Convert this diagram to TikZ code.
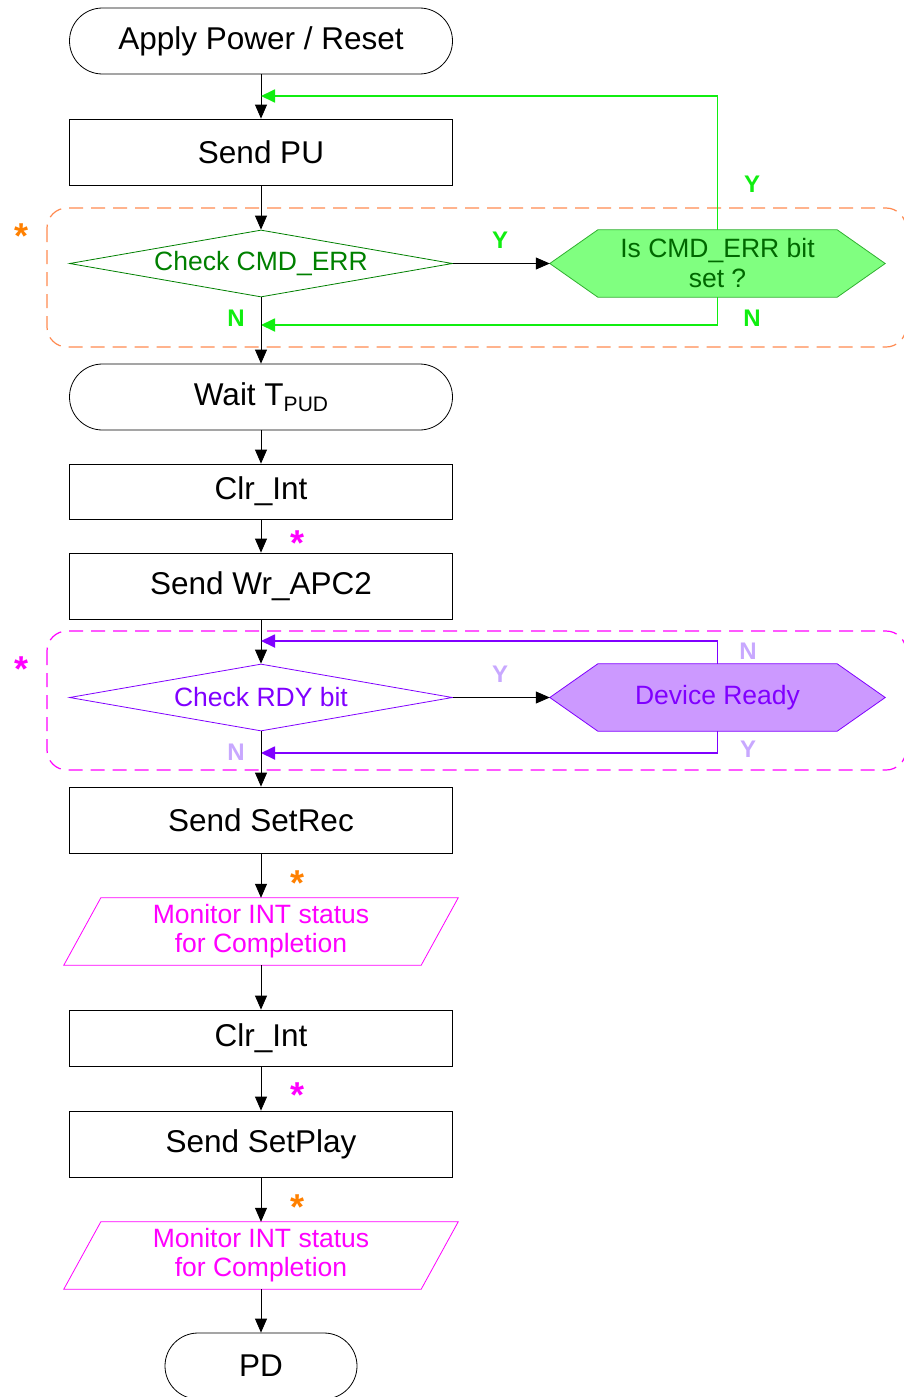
\documentclass[tikz,border=0pt]{standalone}
\usepackage{fontspec}
\setmainfont{Liberation Sans}
\usetikzlibrary{arrows.meta,shapes.geometric,backgrounds,calc}
\definecolor{lgreen}{HTML}{10EE10}
\definecolor{dgreen}{HTML}{008000}
\definecolor{hexgfill}{HTML}{80FF80}
\definecolor{hexgdraw}{HTML}{30B030}
\definecolor{hexgtext}{HTML}{006800}
\definecolor{dorange}{HTML}{FF8A50}
\definecolor{sorange}{HTML}{FF8000}
\definecolor{mag}{HTML}{FF00FF}
\definecolor{purp}{HTML}{8000FF}
\definecolor{hexpfill}{HTML}{CC99FF}
\definecolor{lpurp}{HTML}{C8A8FF}
\begin{document}
\begin{tikzpicture}[x=1pt,y=-1pt,
  box/.style={draw=black, line width=0.8pt, minimum width=383pt, minimum height=66pt, inner sep=0pt, font=\fontsize{31.5}{34}\selectfont},
  term/.style={box, rounded corners=33pt},
  dec/.style={diamond, aspect=5.7, line width=0.8pt, minimum width=383pt, minimum height=67pt, inner sep=0pt, font=\fontsize{26.5}{30}\selectfont},
  hexnode/.style={rectangle, minimum width=335pt, minimum height=67pt, inner sep=0pt, align=center, font=\fontsize{26.5}{30}\selectfont},
  paranode/.style={rectangle, minimum width=394pt, minimum height=67pt, inner sep=0pt, align=center, text=mag, font=\fontsize{26.5}{29}\selectfont},
  arr/.style={draw=black, line width=0.8pt, -{Triangle[length=14pt,width=12pt]}},
  garr/.style={draw=lgreen, line width=1.8pt, -{Triangle[length=14pt,width=13pt]}},
  parr/.style={draw=purp, line width=1.8pt, -{Triangle[length=14pt,width=13pt]}},
  yn/.style={font=\fontsize{24}{24}\selectfont\bfseries, inner sep=0pt},
  star/.style={font=\fontsize{36}{36}\selectfont\bfseries, inner sep=0pt, anchor=base},
  grp/.style={line width=1.2pt, dash pattern=on 14pt off 8pt, rounded corners=20pt}
]
\clip (0,0) rectangle (904,1397);

% group frames
\draw[grp, draw=dorange] (47,208) rectangle (906,347);
\draw[grp, draw=mag] (47,631) rectangle (906,770);
\node[star, text=sorange] (s1) at (22,248) {*};
\node[star, text=mag] (s2) at (22,681) {*};

% main column
\node[term] (start) at (261,41) {Apply Power / Reset};
\node[box] (pu) at (261,152) {Send PU};
\node[dec, draw=dgreen, text=dgreen] (cmd) at (261,263.5) {Check CMD\_ERR};
\node[hexnode, text=hexgtext] (h1) at (717.5,263.5) {Is CMD\_ERR bit\\set ?};
\node[term] (wait) at (261,397) {Wait T\raisebox{-0.35ex}{\fontsize{21}{21}\selectfont PUD}};
\node[box, minimum height=55pt] (clr1) at (261,491.5) {Clr\_Int};
\node[box] (apc) at (261,586) {Send Wr\_APC2};
\node[dec, draw=purp, text=purp] (rdy) at (261,697.5) {Check RDY bit};
\node[hexnode, text=purp] (h2) at (717.5,697.5) {Device Ready};
\node[box] (setrec) at (261,820) {Send SetRec};
\node[paranode] (mon1) at (261,931.5) {Monitor INT status\\for Completion};
\node[box, minimum height=56pt] (clr2) at (261,1038) {Clr\_Int};
\node[box] (setplay) at (261,1144) {Send SetPlay};
\node[paranode] (mon2) at (261,1255.5) {Monitor INT status\\for Completion};
\node[term, minimum width=192pt] (pd) at (261,1366) {PD};

% drawn outlines
\begin{scope}[on background layer]
  \filldraw[fill=hexgfill, draw=hexgdraw, line width=0.8pt] (h1.west) -- ($(h1.north west)+(48,0)$) -- ($(h1.north east)+(-48,0)$) -- (h1.east) -- ($(h1.south east)+(-48,0)$) -- ($(h1.south west)+(48,0)$) -- cycle;
  \filldraw[fill=hexpfill, draw=purp, line width=0.8pt] (h2.west) -- ($(h2.north west)+(48,0)$) -- ($(h2.north east)+(-48,0)$) -- (h2.east) -- ($(h2.south east)+(-48,0)$) -- ($(h2.south west)+(48,0)$) -- cycle;
  \draw[draw=mag, line width=0.8pt] (mon1.south west) -- ($(mon1.north west)+(37,0)$) -- (mon1.north east) -- ($(mon1.south east)+(-37,0)$) -- cycle;
  \draw[draw=mag, line width=0.8pt] (mon2.south west) -- ($(mon2.north west)+(37,0)$) -- (mon2.north east) -- ($(mon2.south east)+(-37,0)$) -- cycle;
\end{scope}

% junction points
\coordinate (j1) at (261,96);
\coordinate (j2) at (261,325);
\coordinate (j3) at (261,641);
\coordinate (j4) at (261,753);

% connectors
\draw[arr] (start.south) -- (pu.north);
\draw[arr] (pu.south) -- (cmd.north);
\draw[arr] (cmd.east) -- (h1.west);
\draw[garr] (h1.north) |- (j1);
\draw[garr] (h1.south) |- (j2);
\draw[arr] (cmd.south) -- (wait.north);
\draw[arr] (wait.south) -- (clr1.north);
\draw[arr] (clr1.south) -- (apc.north);
\draw[arr] (apc.south) -- (rdy.north);
\draw[arr] (rdy.east) -- (h2.west);
\draw[parr] (h2.north) |- (j3);
\draw[parr] (h2.south) |- (j4);
\draw[arr] (rdy.south) -- (setrec.north);
\draw[arr] (setrec.south) -- (mon1.north);
\draw[arr] (mon1.south) -- (clr2.north);
\draw[arr] (clr2.south) -- (setplay.north);
\draw[arr] (setplay.south) -- (mon2.north);
\draw[arr] (mon2.south) -- (pd.north);

% Y/N labels
\node[yn, text=lgreen] (gy1) at (752,184) {Y};
\node[yn, text=lgreen] (gy2) at (500,240) {Y};
\node[yn, text=lgreen] (gn1) at (236,318) {N};
\node[yn, text=lgreen] (gn2) at (752,318) {N};
\node[yn, text=lpurp] (py1) at (500,674) {Y};
\node[yn, text=lpurp] (pn1) at (748,651) {N};
\node[yn, text=lpurp] (py2) at (748,749) {Y};
\node[yn, text=lpurp] (pn2) at (236,752) {N};

% asterisks
\node[star, text=mag] (s3) at (298,555) {*};
\node[star, text=sorange] (s4) at (298,895) {*};
\node[star, text=mag] (s5) at (298,1107) {*};
\node[star, text=sorange] (s6) at (298,1219) {*};
\end{tikzpicture}
\end{document}
